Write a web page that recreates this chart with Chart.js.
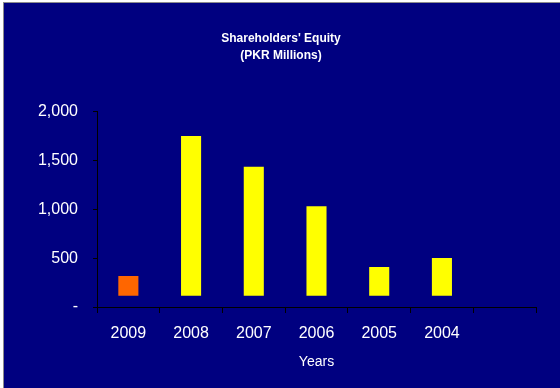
<!DOCTYPE html>
<html>
<head>
<meta charset="utf-8">
<script src="https://cdn.jsdelivr.net/npm/chart.js@4/dist/chart.umd.min.js"></script>
<style>
  html, body { margin: 0; padding: 0; background: #fff; }
  #frame {
    position: absolute; left: 3px; top: 2px; width: 557px; height: 386px;
    background: #000080; border-top: 1px solid #8c8c8c; border-left: 1px solid #8c8c8c;
  }
  #wrap { position: absolute; left: 0; top: 0; width: 560px; height: 388px; }
</style>
</head>
<body>
<div id="frame"></div>
<div id="wrap"><canvas id="equity-chart" width="560" height="388"></canvas></div>
<script>
// Shareholders' equity, PKR millions
const years = ['2009', '2008', '2007', '2006', '2005', '2004', ''];
const equity = [318, 1753, 1437, 1031, 410, 502, null];
const barColors = ['#ff6600', '#ffff00', '#ffff00', '#ffff00', '#ffff00', '#ffff00', '#ffff00'];
const yTicks = [0, 500, 1000, 1500, 2000];

const FONT = 'Arial, "Liberation Sans", sans-serif';
const TEXT = '#ffffff';

new Chart(document.getElementById('equity-chart'), {
    type: 'bar',
    data: {
        labels: years,
        datasets: [{
            data: equity,
            base: 115,
            backgroundColor: barColors,
            borderWidth: 0,
            barPercentage: 0.32,
            categoryPercentage: 1
        }]
    },
    options: {
        responsive: false,
        animation: false,
        layout: { padding: { left: 26, right: 24, top: 0, bottom: 13 } },
        plugins: {
            legend: { display: false },
            tooltip: { enabled: false },
            title: {
                display: true,
                text: ["Shareholders' Equity", '(PKR Millions)'],
                color: TEXT,
                font: { family: FONT, size: 12, weight: 'bold', lineHeight: 1.45 },
                padding: { top: 30, bottom: 47 }
            }
        },
        scales: {
            x: {
                offset: true,
                grid: { offset: true, drawOnChartArea: false, drawTicks: true, tickLength: 6, color: '#000' },
                border: { color: '#000', width: 1 },
                ticks: { color: TEXT, font: { family: FONT, size: 16 }, padding: 11, maxRotation: 0 },
                title: {
                    display: true, text: 'Years', color: TEXT,
                    font: { family: FONT, size: 14 }, padding: { top: 0, bottom: 4 }
                }
            },
            y: {
                min: 0,
                max: 2000,
                afterBuildTicks: (s) => { s.ticks = yTicks.map(v => ({ value: v })); },
                afterFit: (s) => { s.width = 71; },
                grid: { drawOnChartArea: false, drawTicks: true, tickLength: 4, color: '#000' },
                border: { color: '#000', width: 1 },
                ticks: {
                    color: TEXT,
                    font: { family: FONT, size: 16 },
                    padding: 15,
                    callback: (v) => v === 0 ? '-' : v.toLocaleString('en-US')
                }
            }
        }
    }
});
</script>
</body>
</html>
